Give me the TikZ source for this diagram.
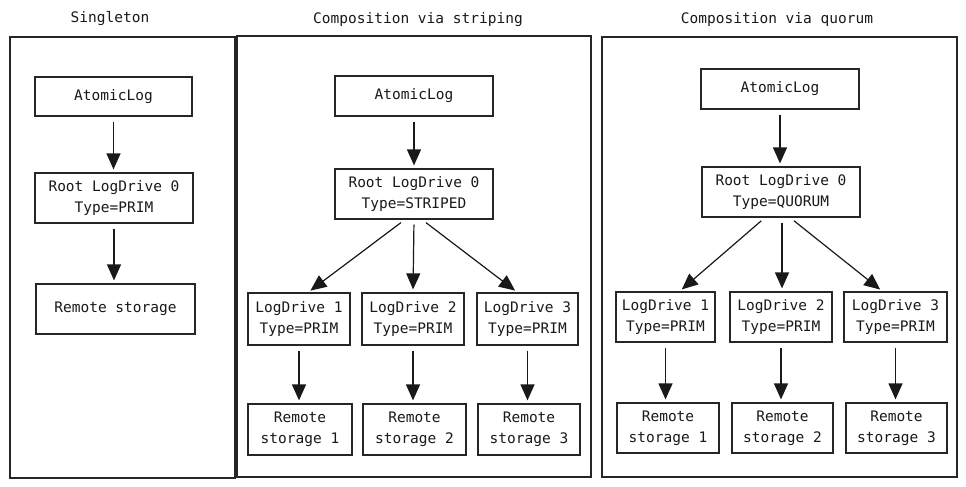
\documentclass[tikz,border=0pt]{standalone}
\usepackage{fontspec}
\setmainfont{DejaVu Sans Mono}
\usetikzlibrary{arrows.meta}
\begin{document}
\begin{tikzpicture}[x=1pt,y=-1pt,
  every node/.style={font=\fontsize{14.5}{21}\selectfont, text=black!90},
  frame/.style={draw=black!85, line width=1.2pt},
  box/.style={draw=black!85, line width=1.2pt, align=center, inner sep=0pt, minimum height=50pt},
  conn/.style={draw=black!90, line width=1.2pt, -{Triangle[length=16pt,width=14pt]}, shorten >=3pt, shorten <=5pt}
]
\useasboundingbox (0,0) rectangle (966,487);
\fill[white] (0,0) rectangle (966,487);

% ---------- Panel 1: Singleton
\draw[frame] (10,37) rectangle (235,478);
\node (t1) at (110,19) {Singleton};
\node[box, minimum width=157pt, minimum height=39pt] (a1) at (113.5,96.5) {AtomicLog};
\node[box, minimum width=158pt] (r1) at (114,198) {Root LogDrive 0\\Type=PRIM};
\node[box, minimum width=159pt] (s1) at (115.5,309) {Remote storage};
\draw[conn] (a1.south) -- (a1.south |- r1.north);
\draw[conn] (r1.south) -- (r1.south |- s1.north);

% ---------- Panel 2: striping
\draw[frame] (237,36) rectangle (591,477);
\node (t2) at (418,20) {Composition via striping};
\node[box, minimum width=158pt, minimum height=40pt] (a2) at (414,96) {AtomicLog};
\node[box, minimum width=158pt] (r2) at (414,194) {Root LogDrive 0\\Type=STRIPED};
\node[box, minimum width=102pt, minimum height=52pt] (l21) at (299,319) {LogDrive 1\\Type=PRIM};
\node[box, minimum width=102pt, minimum height=52pt] (l22) at (413,319) {LogDrive 2\\Type=PRIM};
\node[box, minimum width=101pt, minimum height=52pt] (l23) at (527.5,319) {LogDrive 3\\Type=PRIM};
\node[box, minimum width=104pt, minimum height=51pt] (s21) at (300,429.5) {Remote\\storage 1};
\node[box, minimum width=103pt, minimum height=51pt] (s22) at (414.5,429.5) {Remote\\storage 2};
\node[box, minimum width=102pt, minimum height=51pt] (s23) at (529,429.5) {Remote\\storage 3};
\draw[conn] (a2.south) -- (a2.south |- r2.north);
\draw[conn] ([xshift=-9pt]r2.south) -- ([xshift=9pt]l21.north);
\draw[conn] (r2.south) -- (l22.north);
\draw[conn] ([xshift=8pt]r2.south) -- ([xshift=-10pt]l23.north);
\draw[conn] (l21.south) -- (l21.south |- s21.north);
\draw[conn] (l22.south) -- (l22.south |- s22.north);
\draw[conn] (l23.south) -- (l23.south |- s23.north);

% ---------- Panel 3: quorum
\draw[frame] (602,37) rectangle (957,477);
\node (t3) at (777,20) {Composition via quorum};
\node[box, minimum width=158pt, minimum height=40pt] (a3) at (780,89) {AtomicLog};
\node[box, minimum width=158pt] (r3) at (781,192) {Root LogDrive 0\\Type=QUORUM};
\node[box, minimum width=99pt] (l31) at (665.5,317) {LogDrive 1\\Type=PRIM};
\node[box, minimum width=102pt] (l32) at (781,317) {LogDrive 2\\Type=PRIM};
\node[box, minimum width=103pt] (l33) at (895.5,317) {LogDrive 3\\Type=PRIM};
\node[box, minimum width=102pt] (s31) at (668,428) {Remote\\storage 1};
\node[box, minimum width=101pt] (s32) at (782.5,428) {Remote\\storage 2};
\node[box, minimum width=101pt] (s33) at (896.5,428) {Remote\\storage 3};
\draw[conn] (a3.south) -- (a3.south |- r3.north);
\draw[conn] ([xshift=-16pt]r3.south) -- ([xshift=14pt]l31.north);
\draw[conn] ([xshift=1pt]r3.south) -- ([xshift=1pt]l32.north);
\draw[conn] ([xshift=9pt]r3.south) -- ([xshift=-13pt]l33.north);
\draw[conn] (l31.south) -- (l31.south |- s31.north);
\draw[conn] (l32.south) -- (l32.south |- s32.north);
\draw[conn] (l33.south) -- (l33.south |- s33.north);
\end{tikzpicture}
\end{document}
